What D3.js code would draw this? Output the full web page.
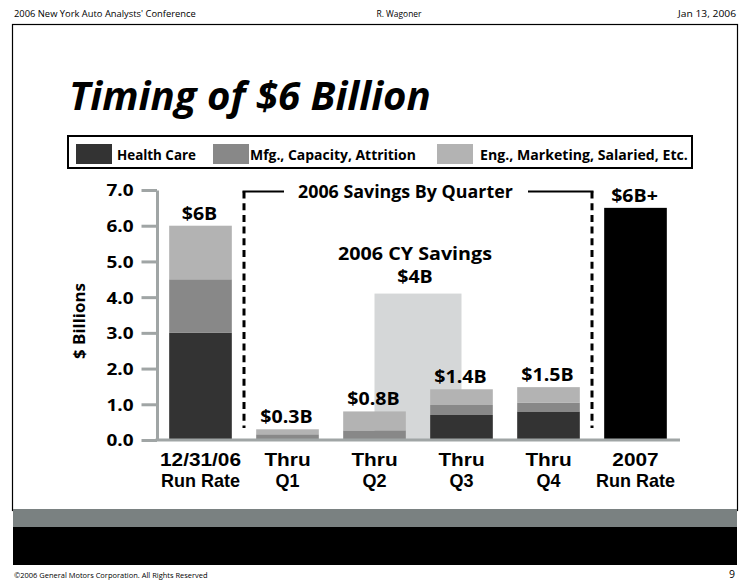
<!DOCTYPE html>
<html><head><meta charset="utf-8">
<script src="https://cdn.jsdelivr.net/npm/d3@7/dist/d3.min.js"></script>
<style>
body{margin:0;background:#fff;}
svg{display:block;}
text{font-family:"Open Sans","Noto Sans",sans-serif;}
</style></head>
<body>
<script>
// ---- data ----
const catLine1 = ["12/31/06","Thru","Thru","Thru","Thru","2007"];
const catLine2 = ["Run Rate","Q1","Q2","Q3","Q4","Run Rate"];
const seriesNames = ["Health Care","Mfg., Capacity, Attrition","Eng., Marketing, Salaried, Etc."];
const healthCare = [3.0, 0.0, 0.0, 0.70, 0.80, 0];
const mfgCapacity = [1.5, 0.16, 0.27, 0.28, 0.25, 0];
const engMarketing = [1.5, 0.14, 0.53, 0.44, 0.43, 0];
const runRate2007 = [0, 0, 0, 0, 0, 6.5];
const totalLabels = ["$6B","$0.3B","$0.8B","$1.4B","$1.5B","$6B+"];
const cySavings = 4.1;
const cyLabel1 = "2006 CY Savings", cyLabel2 = "$4B";
const bracketLabel = "2006 Savings By Quarter";
const yTicks = [0,1,2,3,4,5,6,7];
const yTitle = "$ Billions";
const title = "Timing of $6 Billion";
const headerLeft = "2006 New York Auto Analysts' Conference";
const headerMid = "R. Wagoner";
const headerRight = "Jan 13, 2006";
const footerText = "\u00A92006 General Motors Corporation. All Rights Reserved";
const pageNo = "9";

const colors = ["#333333","#888888","#b3b3b3"];
const W=750,H=587;
const svg = d3.select("body").append("svg").attr("width",W).attr("height",H);

// text helper: horizontal stretch sx, or fit to width w
function txt(parent, o){
  const g = parent.append("g").attr("transform",`translate(${o.x},${o.y})`+(o.rot?` rotate(${o.rot})`:""));
  const t = g.append("text").attr("font-size",o.size).attr("font-weight",o.weight||700)
    .attr("text-anchor",o.anchor||"start").attr("fill",o.fill||"#000").text(o.text);
  if(o.italic) t.attr("font-style","italic");
  if(o.family) t.style("font-family",o.family);
  let sx = o.sx||1;
  if(o.w){ sx = o.w / t.node().getComputedTextLength(); }
  t.attr("transform",`scale(${sx},1)`);
  return t;
}

// frame
svg.append("rect").attr("x",12.5).attr("y",24.5).attr("width",725).attr("height",486).attr("fill","#fff").attr("stroke","#000").attr("stroke-width",1.2);
svg.append("rect").attr("x",13).attr("y",509).attr("width",724).attr("height",18).attr("fill","#7a8181");
svg.append("rect").attr("x",13).attr("y",527).attr("width",724).attr("height",38).attr("fill","#000");

// header/footer
txt(svg,{x:14,y:17,size:9.5,weight:400,text:headerLeft,w:182});
txt(svg,{x:399,y:17,size:9.5,weight:400,anchor:"middle",text:headerMid,w:45});
txt(svg,{x:736,y:17,size:9.5,weight:400,anchor:"end",text:headerRight,w:58});
txt(svg,{x:14,y:578,size:8,weight:400,text:footerText,w:194});
txt(svg,{x:735,y:578,size:10.5,weight:400,anchor:"end",text:pageNo});

// title
txt(svg,{x:69,y:110,size:39,weight:700,italic:true,text:title,w:362});

// legend
svg.append("rect").attr("x",68).attr("y",136).attr("width",624).attr("height",32).attr("fill","none").attr("stroke","#000").attr("stroke-width",2);
const legSw = [76,213,437], legTx=[117,250,480], legW=[79,166,208];
seriesNames.forEach((n,i)=>{
  svg.append("rect").attr("x",legSw[i]).attr("y",144).attr("width",36).attr("height",20).attr("fill",colors[i]);
  txt(svg,{x:legTx[i],y:159.5,size:15,text:n,w:legW[i]});
});

// scales
const cats = catLine1.map((d,i)=>d+" "+catLine2[i]);
const x = d3.scaleBand().domain(cats).range([157,679]).paddingInner(0.28).paddingOuter(0.14);
const y = d3.scaleLinear().domain([0,7]).range([440,190]);
const bw = x.bandwidth();

// CY background
const cyX0 = x(cats[2])+bw/2, cyX1 = x(cats[3])+bw/2;
svg.append("rect").attr("x",cyX0).attr("y",y(cySavings))
  .attr("width",cyX1-cyX0).attr("height",y(0)-y(cySavings)).attr("fill","#d5d7d8");
txt(svg,{x:415,y:260,size:17.5,anchor:"middle",text:cyLabel1,w:154});
txt(svg,{x:415,y:283,size:17.5,anchor:"middle",text:cyLabel2,sx:1.12});

// stacked bars
const rows = cats.map((c,i)=>({cat:c, a:healthCare[i], b:mfgCapacity[i], c2:engMarketing[i]}));
const stacked = d3.stack().keys(["a","b","c2"])(rows);
stacked.forEach((s,k)=>{
  svg.append("g").selectAll("rect").data(s).join("rect")
    .attr("x",d=>x(d.data.cat)).attr("width",bw)
    .attr("y",d=>y(d[1])).attr("height",d=>y(d[0])-y(d[1]))
    .attr("fill",colors[k]);
});
svg.append("g").selectAll("rect").data(runRate2007.map((v,i)=>({cat:cats[i],v}))).join("rect")
  .attr("x",d=>x(d.cat)).attr("width",bw).attr("y",d=>y(d.v)).attr("height",d=>y(0)-y(d.v)).attr("fill","#000");

// totals
const totals = cats.map((c,i)=>healthCare[i]+mfgCapacity[i]+engMarketing[i]+runRate2007[i]);
totalLabels.forEach((lab,i)=>{
  txt(svg,{x:x(cats[i])+bw/2-1,y:y(totals[i])-6,size:17.5,anchor:"middle",text:lab,sx:1.12});
});

// axes
const tickSize=15.5, tickPad=8, axisX=157;
const gy = svg.append("g").attr("transform",`translate(${axisX},0)`)
  .call(d3.axisLeft(y).tickValues(yTicks).tickFormat(d3.format(".1f")).tickSize(tickSize).tickSizeOuter(0).tickPadding(tickPad));
gy.select(".domain").attr("stroke","#a0a5a5").attr("stroke-width",3);
gy.selectAll(".tick line").attr("stroke","#a0a5a5").attr("stroke-width",3);
gy.selectAll(".tick text").attr("font-size",16.5).attr("font-weight",700).attr("fill","#000")
  .style("font-family","'Open Sans',sans-serif").attr("x",0).attr("dy","0.36em")
  .attr("transform",`translate(${-(tickSize+tickPad)},0) scale(1.15,1)`);
svg.append("line").attr("x1",axisX-1.5).attr("x2",680).attr("y1",y(0)).attr("y2",y(0)).attr("stroke","#a0a5a5").attr("stroke-width",3);

txt(svg,{x:85,y:321,rot:-90,size:16.5,anchor:"middle",text:yTitle,w:76});

// category labels (two lines; compact-metric font so line boxes don't collide)
const catFont = "'Liberation Sans',Arimo,Arial,sans-serif";
let sx1 = null, sx2 = null;
cats.forEach((c,i)=>{
  const cx = x(c)+bw/2;
  const t1 = txt(svg,{x:cx,y:466,size:18,anchor:"middle",text:catLine1[i],family:catFont});
  if(sx1===null){ sx1 = 81 / t1.node().getComputedTextLength(); }
  t1.attr("transform",`scale(${sx1},1)`);
  const t2 = txt(svg,{x:cx,y:486.7,size:18,anchor:"middle",text:catLine2[i],family:catFont});
  if(sx2===null){ sx2 = 79 / t2.node().getComputedTextLength(); }
  t2.attr("transform",`scale(${sx2},1)`);
});

// bracket
const lx = (x(cats[0])+bw + x(cats[1]))/2;
const rx = (x(cats[4])+bw + x(cats[5]))/2;
const topY = 191.5;
[lx,rx].forEach(xx=>svg.append("line").attr("x1",xx).attr("x2",xx).attr("y1",topY).attr("y2",428)
  .attr("stroke","#000").attr("stroke-width",3).attr("stroke-dasharray","7,4.7"));
svg.append("line").attr("x1",lx-1.5).attr("x2",lx+40).attr("y1",topY).attr("y2",topY).attr("stroke","#000").attr("stroke-width",2);
svg.append("line").attr("x1",rx-64).attr("x2",rx+1.5).attr("y1",topY).attr("y2",topY).attr("stroke","#000").attr("stroke-width",2);
txt(svg,{x:298,y:198,size:17.5,text:bracketLabel,w:215});
</script>
</body></html>
